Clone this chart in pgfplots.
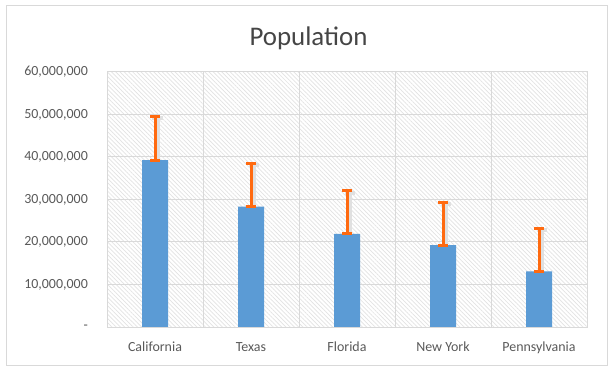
\documentclass[border=0pt]{standalone}
\usepackage{fontspec}
\setmainfont{Carlito}
\usepackage{pgfplots}
\pgfplotsset{compat=1.18}
\usetikzlibrary{patterns.meta}
\definecolor{barblue}{HTML}{5B9BD5}
\definecolor{errorange}{HTML}{FF6A10}
\definecolor{txtgray}{HTML}{595959}
\definecolor{titlegray}{HTML}{454545}
\definecolor{gridgray}{HTML}{D9D9D9}
\pgfplotstableread{
x y e z
0 39250000 10350000 0
1 28300000 10200000 0
2 21900000 10100000 0
3 19250000 10150000 0
4 13100000 10100000 0
}\popdata
\begin{document}
\begin{tikzpicture}
\path[use as bounding box] (0,0) rectangle (613bp,372bp);
\draw[gridgray, line width=1bp] (6bp,6bp) rectangle (607bp,366bp);
\node[titlegray, font=\fontsize{27}{32}\selectfont] at (308.5bp,334bp) {Population};
\begin{axis}[
 at={(107bp,45bp)}, anchor=south west, scale only axis, width=480bp, height=255bp,
 xmin=-0.5, xmax=4.5, ymin=0, ymax=60000000,
 xtick={0,1,2,3,4}, xticklabels={California,Texas,Florida,New York,Pennsylvania},
 minor xtick={-0.5,0.5,1.5,2.5,3.5,4.5},
 ytick={0,10000000,20000000,30000000,40000000,50000000,60000000},
 yticklabels={{-\hspace{7bp}},{10,000,000},{20,000,000},{30,000,000},{40,000,000},{50,000,000},{60,000,000}},
 ymajorgrids, xminorgrids,
 grid style={gridgray, line width=1bp},
 minor grid style={gridgray, line width=1bp},
 axis line style={gridgray, line width=1bp},
 major tick length=0pt, minor tick length=0pt,
 tick label style={txtgray, font=\fontsize{14}{17}\selectfont},
 yticklabel style={inner sep=0pt, xshift=-19bp},
 xticklabel style={inner sep=0pt, yshift=-15bp},
 scaled y ticks=false,
 axis background/.style={preaction={fill=white}, pattern={Lines[angle=-45,distance=3bp,line width=0.7bp]}, pattern color=gray!22},
 ybar, bar width=26bp,
]
% soft shadow of the error bars
\addplot[draw=none, fill=none, bar shift=0pt,
 error bars/.cd, y dir=plus, y explicit,
 error bar style={black!12, line width=4bp, xshift=2.5bp, yshift=-2bp},
 error mark options={rotate=90, mark size=5bp, line width=4bp, black!12, xshift=2.5bp, yshift=-2bp}]
 table[x=x, y=y, y error=e] {\popdata};
\addplot[fill=barblue, draw=none, bar shift=0pt, line width=3bp,
 error bars/.cd, y dir=both, y explicit,
 error bar style={draw=errorange, line width=3bp},
 error mark options={rotate=90, mark size=5bp, line width=3bp, draw=errorange}]
 table[x=x, y=y, y error plus=e, y error minus=z] {\popdata};
\end{axis}
\end{tikzpicture}
\end{document}
